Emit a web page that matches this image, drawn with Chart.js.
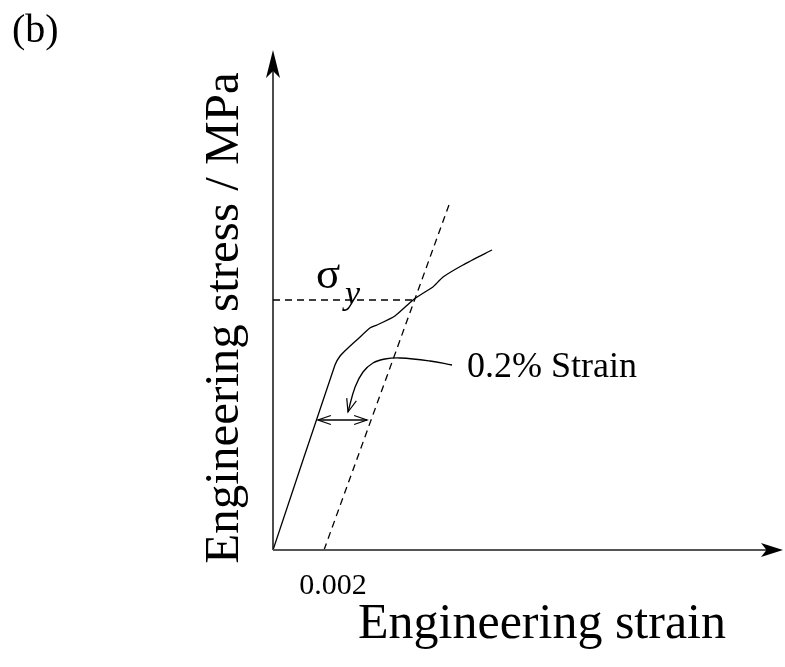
<!DOCTYPE html>
<html lang="en">
<head>
<meta charset="UTF-8">
<title>Engineering stress-strain</title>
<style>
    body { margin: 0; background: #fff; }
    #wrap { width: 785px; height: 667px; }
</style>
<script src="https://cdn.jsdelivr.net/npm/chart.js"></script>
</head>
<body>
<div id="wrap"><canvas id="c" width="785" height="667"></canvas></div>
<script>
// stress-strain curve (strain, MPa)
const curveStrain = [0, 0.00243, 0.00263, 0.00290, 0.00333, 0.00380, 0.00408, 0.00478, 0.00549, 0.00596, 0.00627, 0.00667, 0.00745, 0.00859];
const curveStress = [0, 185, 194, 201, 211, 222, 225, 234, 250, 258, 263, 273, 285, 300];

// 0.2% offset line
const offsetStrain = [0.002, 0.0069];
const offsetStress = [0, 345];

// yield stress
const yieldStress = 250;
const yieldStrain = 0.00549;

// pointer from the "0.2% Strain" label
const pointerStrain = [0.00702, 0.00616, 0.00498, 0.00439, 0.00392, 0.00353, 0.00322, 0.00294];
const pointerStress = [185, 189, 192, 191, 187, 178, 163, 138];

// double arrow showing the offset
const gapStrain = [0.00176, 0.00369];
const gapStress = 130;

const xTicks = [0.002];
const xMax = 0.02, yMax = 500;

const pts = (xs, ys) => xs.map((x, i) => ({ x: x, y: Array.isArray(ys) ? ys[i] : ys }));
const serif = "'Liberation Serif', 'Times New Roman', serif";

function arrowHead(ctx, tipX, tipY, ang, len, half, filled) {
    ctx.save();
    ctx.translate(tipX, tipY);
    ctx.rotate(ang);
    ctx.beginPath();
    if (filled) {
        ctx.moveTo(0, 0);
        ctx.lineTo(-len, -half);
        ctx.lineTo(-len * 0.75, 0);
        ctx.lineTo(-len, half);
        ctx.closePath();
        ctx.fill();
    } else {
        ctx.moveTo(-len, -half);
        ctx.lineTo(0, 0);
        ctx.lineTo(-len, half);
        ctx.stroke();
    }
    ctx.restore();
}

const decor = {
    id: 'decor',
    afterDatasetsDraw(chart) {
        const ctx = chart.ctx;
        const sx = chart.scales.x, sy = chart.scales.y;
        const x0 = sx.getPixelForValue(0), y0 = sy.getPixelForValue(0);
        const xEnd = sx.getPixelForValue(xMax), yEnd = sy.getPixelForValue(yMax);
        ctx.save();

        // y axis
        ctx.strokeStyle = '#000'; ctx.fillStyle = '#000'; ctx.lineWidth = 1.4;
        ctx.beginPath(); ctx.moveTo(x0, y0); ctx.lineTo(x0, yEnd + 4); ctx.stroke();
        arrowHead(ctx, x0, yEnd, -Math.PI / 2, 28, 7, true);

        // x axis
        ctx.strokeStyle = '#555'; ctx.fillStyle = '#000'; ctx.lineWidth = 2;
        ctx.beginPath(); ctx.moveTo(x0, y0); ctx.lineTo(xEnd - 4, y0); ctx.stroke();
        arrowHead(ctx, xEnd, y0, 0, 22, 7, true);

        // pointer arrow head
        ctx.strokeStyle = '#000'; ctx.lineWidth = 1.2;
        const n = pointerStrain.length;
        const tx = sx.getPixelForValue(pointerStrain[n - 1]), ty = sy.getPixelForValue(pointerStress[n - 1]);
        const px = sx.getPixelForValue(pointerStrain[n - 2]), py = sy.getPixelForValue(pointerStress[n - 2]);
        arrowHead(ctx, tx, ty, Math.atan2(ty - py, tx - px), 13, 5, false);

        // double arrow heads
        const gy = sy.getPixelForValue(gapStress);
        arrowHead(ctx, sx.getPixelForValue(gapStrain[0]), gy, Math.PI, 13, 4.5, false);
        arrowHead(ctx, sx.getPixelForValue(gapStrain[1]), gy, 0, 13, 4.5, false);

        // texts
        ctx.fillStyle = '#000';
        ctx.textBaseline = 'alphabetic';
        ctx.textAlign = 'left';
        ctx.font = '40px ' + serif;
        ctx.fillText('(b)', 12, 42);

        ctx.font = '45px ' + serif;
        ctx.fillText('\u03c3', 316, 288);
        ctx.font = 'italic 34px ' + serif;
        ctx.fillText('y', 345, 304);

        ctx.font = '36px ' + serif;
        ctx.fillText('0.2% Strain', 467, 377);

        ctx.textAlign = 'center';
        ctx.font = '30px ' + serif;
        xTicks.forEach(t => ctx.fillText('0.002', sx.getPixelForValue(t) + 9, 594));

        ctx.font = '50px ' + serif;
        ctx.fillText('Engineering strain', 542, 638);

        ctx.translate(238, 318);
        ctx.rotate(-Math.PI / 2);
        ctx.font = '49px ' + serif;
        ctx.fillText('Engineering stress / MPa', 0, 0);
        ctx.restore();
    }
};

const lineDs = (data, dash, tension) => ({
    data: data,
    showLine: true,
    borderColor: '#000',
    borderWidth: 1.3,
    borderDash: dash,
    pointRadius: 0,
    tension: tension,
    fill: false
});

new Chart(document.getElementById('c'), {
    type: 'scatter',
    data: {
        datasets: [
            lineDs(pts(curveStrain, curveStress), [], 0.2),
            lineDs(pts(offsetStrain, offsetStress), [7, 5], 0),
            lineDs(pts([0, yieldStrain], yieldStress), [7, 5], 0),
            lineDs(pts(pointerStrain, pointerStress), [], 0.4),
            lineDs(pts(gapStrain, gapStress), [], 0)
        ]
    },
    options: {
        responsive: false,
        animation: false,
        layout: { padding: { left: 273, right: 2, top: 50, bottom: 117 } },
        scales: {
            x: { type: 'linear', min: 0, max: xMax, display: false },
            y: { type: 'linear', min: 0, max: yMax, display: false }
        },
        plugins: { legend: { display: false }, tooltip: { enabled: false } }
    },
    plugins: [decor]
});
</script>
</body>
</html>
